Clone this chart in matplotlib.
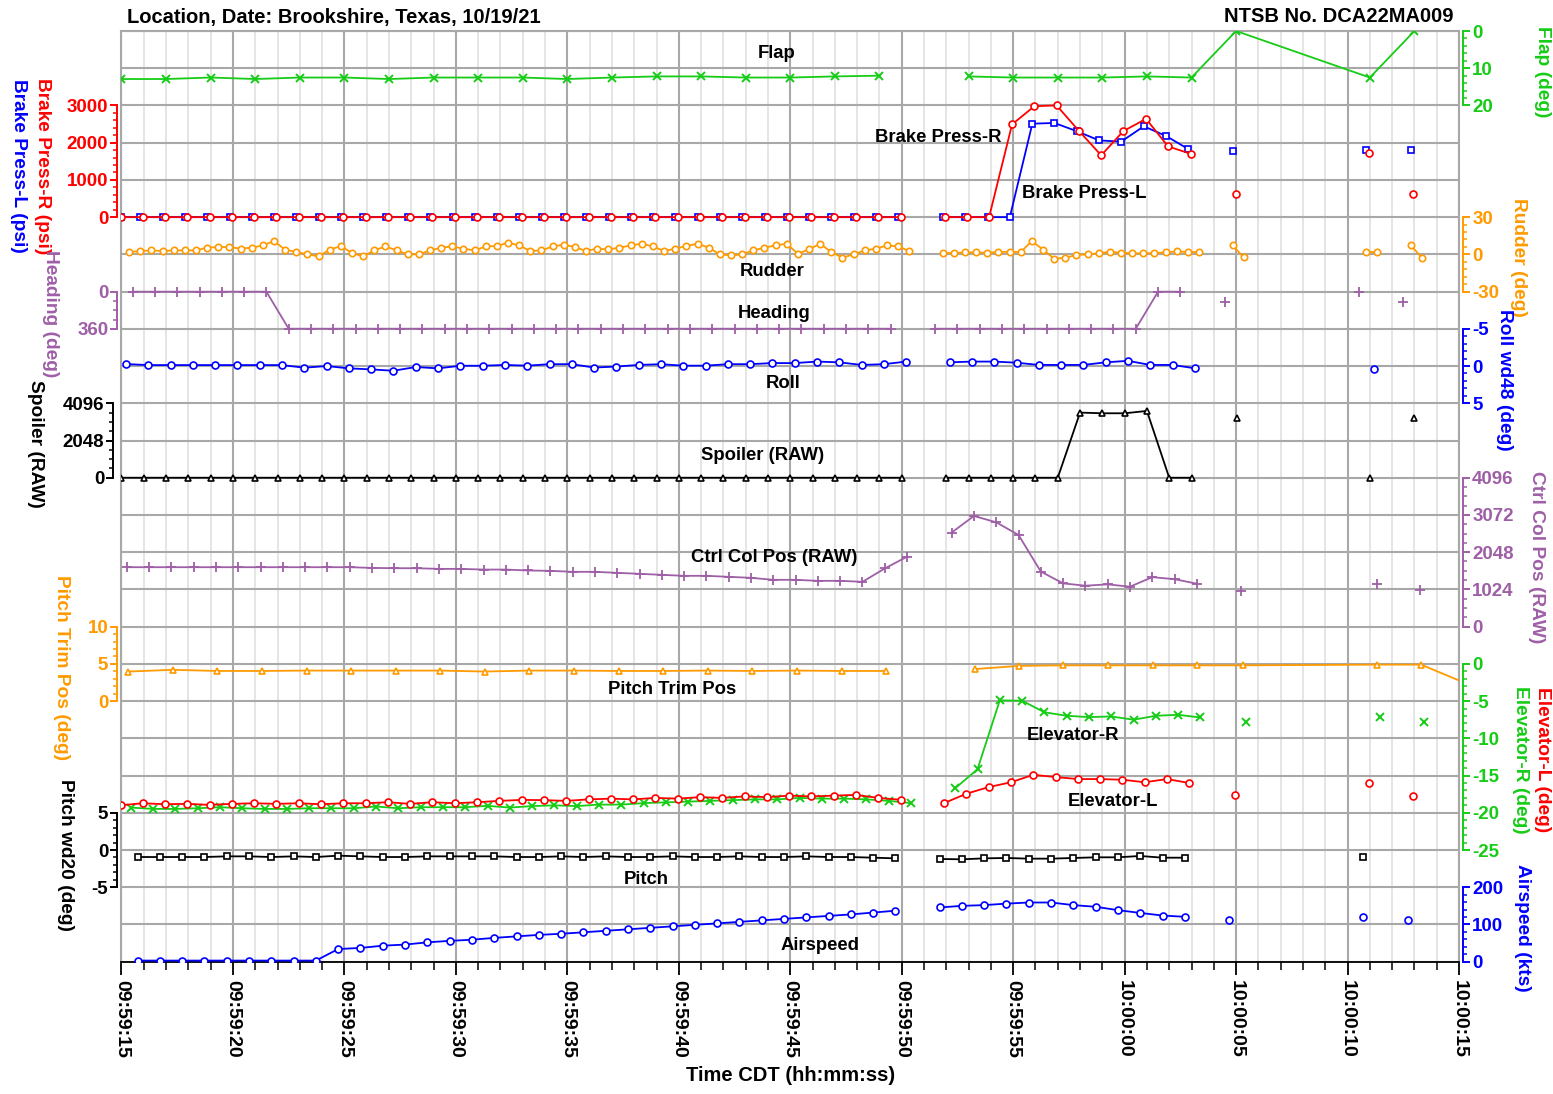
import numpy as np
import matplotlib
matplotlib.use("Agg")
import matplotlib.pyplot as plt
from matplotlib.ticker import FixedLocator

plt.rcParams['font.family'] = ['Liberation Sans', 'DejaVu Sans']

NAN = np.nan

# ---------------- time axis (seconds after 09:59:15) ----------------
time_labels = ["09:59:15", "09:59:20", "09:59:25", "09:59:30", "09:59:35", "09:59:40",
               "09:59:45", "09:59:50", "09:59:55", "10:00:00", "10:00:05", "10:00:10", "10:00:15"]

# ---------------- data ----------------
flap_t = [0, 2, 4, 6, 8, 10, 12, 14, 16, 18, 20, 22, 24, 26, 28, 30, 32, 34, NAN,
          38, 40, 42, 44, 46, 48, 50, 56, 58]
flap_v = [12.9, 12.9, 12.5, 12.9, 12.5, 12.5, 12.9, 12.5, 12.5, 12.5, 12.9, 12.5, 12.2, 12.2,
          12.5, 12.5, 12.2, 12.0, NAN, 12.2, 12.5, 12.5, 12.5, 12.2, 12.5, 0.0, 12.5, 0.0]

brake_pre = [0] * 36
brake_l_post_t = [36.85, 37.85, 38.85, 39.85, 40.86, 41.85, 42.85, 43.86, 44.85, 45.86, 46.86, 47.85]
brake_l_post = [0, 0, 0, 0, 2510, 2530, 2310, 2060, 2030, 2440, 2180, 1830]
brake_l_iso_t = [49.84, 55.82, 57.84]
brake_l_iso = [1790, 1800, 1800]
brake_r_post_t = [36.95, 37.94, 38.92, 39.95, 40.95, 41.95, 42.96, 43.95, 44.94, 45.96, 46.95, 47.97]
brake_r_post = [0, 0, 0, 2490, 2980, 3000, 2310, 1660, 2310, 2640, 1900, 1700]
brake_r_iso_t = [49.98, 55.96, 57.93]
brake_r_iso = [610, 1720, 620]

rudder_pre = [1.9, 2.7, 3.2, 2.7, 3.2, 3.2, 3.2, 5.4, 5.9, 5.9,
              4.6, 5.4, 7.2, 10.7, 3.8, 1.9, 0.0, -1.6, 3.8, 6.7,
              1.1, -1.6, 3.2, 6.4, 3.2, 0.0, 0.0, 3.2, 5.4, 6.4,
              4.6, 3.2, 6.4, 6.7, 9.4, 7.2,
              2.7, 3.2, 6.4, 7.8, 5.9, 2.7, 4.6, 4.0, 5.4, 7.2,
              8.6, 6.4, 2.7, 4.6, 6.7, 8.6, 5.4, 0.0, -0.8, 0.0,
              3.2, 5.4, 7.2, 8.6, 0.5, 4.0, 8.6, 1.9, -2.7, 0.0,
              3.2, 4.6, 7.2, 6.4, 2.7]
rudder_post = [1.1, 1.1, 1.6, 1.6, 1.3, 1.9, 2.1, 1.9, 10.7, 3.8, -3.5, -2.7,
               -0.5, 0.0, 0.8, 2.1, 1.3, 0.8, 0.8, 1.1, 1.6, 2.4, 1.9, 1.9]
rudder_pairs_t = [(49.84, 50.34), (55.84, 56.34), (57.84, 58.34)]
rudder_pairs = [(7.5, -2.5), (1.9, 1.9), (7.2, -2.7)]

heading_pre = [1] * 7 + [359] * 28
heading_post = [359] * 10 + [1, 1]
heading_iso_t = [49.5, 55.5, 57.5]
heading_iso = [100, 2, 100]

roll_pre = [-0.27, -0.13, -0.13, -0.13, -0.13, -0.13, -0.13, -0.13, 0.22, 0.0,
            0.31, 0.45, 0.63, 0.13, 0.31, -0.04, -0.04, -0.15, -0.05, -0.25,
            -0.25, 0.2, 0.07, -0.15, -0.25, -0.05, -0.05, -0.25, -0.25, -0.4,
            -0.4, -0.6, -0.5, -0.15, -0.25, -0.6]
roll_post = [-0.5, -0.6, -0.6, -0.45, -0.15, -0.15, -0.15, -0.5, -0.7, -0.15, -0.15, 0.3]
roll_iso_t = [56.18]
roll_iso = [0.35]

spoiler_pre = [0] * 36
spoiler_post = [0, 0, 0, 0, 0, 0, 3584, 3546, 3546, 3674, 0, 0]
spoiler_iso_t = [50.06, 56.0, 58.0]
spoiler_iso = [3300, 0, 3300]

ctrl_pre = [1635, 1635, 1635, 1635, 1635, 1635, 1635, 1635, 1635, 1635,
            1635, 1616, 1607, 1607, 1589, 1589, 1570, 1570, 1545, 1535,
            1508, 1508, 1480, 1453, 1425, 1398, 1398, 1370, 1343, 1288,
            1288, 1260, 1260, 1233, 1600, 1924]
ctrl_post = [2588, 3044, 2870, 2522, 1515, 1190, 1126, 1163, 1099, 1361, 1306, 1181]
ctrl_iso_t = [50.24, 56.3, 58.24]
ctrl_iso = [990, 1180, 1010]

trim_pre = [3.97, 4.2, 4.05, 4.05, 4.1, 4.1, 4.1, 4.1, 3.97, 4.1, 4.1, 4.05, 4.05, 4.1,
            4.05, 4.1, 4.05, 4.05]
trim_post_t = [38.27, 40.25, 42.25, 44.25, 46.26, 48.26, 50.29, 56.3, 58.3, 60.3]
trim_post = [4.3, 4.73, 4.8, 4.8, 4.8, 4.8, 4.8, 4.9, 4.9, 2.4]

elev_l_pre = [-18.98, -18.72, -18.85, -18.8, -18.94, -18.8, -18.72, -18.8, -18.72, -18.85,
              -18.72, -18.72, -18.58, -18.8, -18.58, -18.72, -18.58, -18.4, -18.27, -18.3,
              -18.4, -18.2, -18.1, -18.2, -18.0, -18.1, -17.9, -18.0, -17.8, -17.9,
              -17.7, -17.8, -17.7, -17.6, -18.0, -18.25]
elev_l_post = [-18.7, -17.44, -16.55, -15.9, -14.9, -15.2, -15.47, -15.47, -15.56, -15.9,
               -15.47, -16.0]
elev_l_iso_t = [49.94, 55.96, 57.93]
elev_l_iso = [-17.67, -16.0, -17.7]

elev_r_pre = [-19.3, -19.48, -19.48, -19.39, -19.25, -19.39, -19.48, -19.48, -19.39, -19.39,
              -19.39, -19.16, -19.39, -19.25, -19.25, -19.25, -19.07, -19.3, -19.1, -19.0,
              -19.1, -18.9, -18.9, -18.7, -18.6, -18.5, -18.4, -18.3, -18.2, -18.2,
              -18.0, -18.1, -18.1, -18.2, -18.4, -18.7]
elev_r_post = [-16.7, -14.15, -4.9, -4.95, -6.5, -6.97, -7.15, -7.06, -7.5, -6.97, -6.84, -7.2]
elev_r_iso_t = [50.44, 56.45, 58.43]
elev_r_iso = [-7.86, -7.1, -7.77]

pitch_pre = [-0.94, -0.94, -0.94, -0.94, -0.85, -0.85, -0.94, -0.85, -0.94, -0.76,
             -0.85, -0.94, -0.94, -0.85, -0.85, -0.85, -0.85, -0.94, -0.94, -0.85,
             -0.94, -0.85, -0.94, -0.94, -0.85, -0.94, -0.94, -0.85, -0.94, -0.94,
             -0.85, -0.94, -0.94, -1.03, -1.12]
pitch_post = [-1.2, -1.25, -1.12, -1.07, -1.16, -1.16, -1.07, -0.98, -0.98, -0.8, -1.03, -1.03]
pitch_iso_t = [55.7]
pitch_iso = [-1.0]

speed_pre = [3, 3, 3, 3, 3, 3, 3, 3, 3, 34,
             37, 43, 46, 52, 56, 59, 64, 68, 72, 75,
             79, 83, 87, 91, 95, 99, 103, 107, 111, 115,
             119, 123, 127, 132, 137]
speed_post = [145.7, 150, 152, 156, 159, 159, 152, 147.5, 138.5, 131, 124, 120.6]
speed_iso_t = [49.7, 55.7, 57.7]
speed_iso = [111.6, 121, 112]

# ---------------- colours ----------------
RED = '#FF0000'
BLUE = '#0000FF'
GREEN = '#16CC16'
ORANGE = '#FF9A00'
PURPLE = '#9E5FA6'
BLACK = '#000000'

# ---------------- figure layout ----------------
W, H = 1553, 1094
L, R, T, B = 121.5, 1459.0, 31.0, 961.7
rect = [L / W, 1 - B / H, (R - L) / W, (B - T) / H]
fig = plt.figure(figsize=(W / 100, H / 100), dpi=100)

base = fig.add_axes(rect)
base.set_xlim(0, 60)
base.set_ylim(25, 0)
for s in range(61):
    major = (s % 5 == 0)
    base.axvline(s, color='#A8A8A8' if major else '#DEDEDE', lw=1.5 if major else 1.1, zorder=0)
for k in range(26):
    base.axhline(k, color='#A8A8A8', lw=1.5, zorder=0)
for side in ('top', 'left', 'right'):
    base.spines[side].set_color('#A8A8A8')
    base.spines[side].set_linewidth(1.5)
base.spines['bottom'].set_color('black')
base.spines['bottom'].set_linewidth(1.3)
base.set_yticks([])
base.set_xticks(np.arange(0, 61, 5))
base.set_xticks(np.arange(0, 61, 1), minor=True)
base.set_xticklabels(time_labels, rotation=-90, fontsize=14, fontweight='bold',
                     ha='center', va='top')
base.tick_params(axis='x', which='major', length=9, width=1.3, pad=4, direction='out')
base.tick_params(axis='x', which='minor', length=6, width=1.1, direction='out')
base.set_xlabel("Time CDT (hh:mm:ss)", fontsize=14.5, fontweight='bold', labelpad=6)


def band_axes(side, va, ka, vb, kb, bounds, majors, minor_step, color, offset=3.0):
    ax = fig.add_axes(rect, sharex=base)
    ax.patch.set_visible(False)
    slope = (vb - va) / (kb - ka)
    def val(k):
        return va + slope * (k - ka)
    ax.set_ylim(val(25), val(0))
    for sp in ax.spines.values():
        sp.set_visible(False)
    sp = ax.spines[side]
    sp.set_visible(True)
    sp.set_bounds(*bounds)
    sp.set_color(color)
    sp.set_linewidth(1.4)
    sp.set_position(('outward', offset))
    ax.yaxis.set_ticks_position(side)
    ax.yaxis.set_major_locator(FixedLocator(majors))
    lo, hi = min(bounds), max(bounds)
    mins = [m for m in np.arange(lo, hi + 1e-9, minor_step) if m not in majors]
    ax.yaxis.set_minor_locator(FixedLocator(mins))
    ax.set_yticklabels([str(m) for m in majors])
    ax.tick_params(axis='y', which='major', length=5, width=1.4, colors=color, pad=1.5,
                   labelsize=13.5)
    ax.tick_params(axis='y', which='minor', length=3, width=1.1, colors=color)
    for lab in ax.get_yticklabels():
        lab.set_fontweight('bold')
    ax.tick_params(axis='x', which='both', bottom=False, labelbottom=False)
    return ax


def seg(t0, n, step=1.0):
    return list(t0 + step * np.arange(n))


def draw(ax, t, v, color, marker, ms=5.0, lw=1.3, mew=1.2, mfc='white'):
    ax.plot(t, v, color=color, lw=lw, marker=marker, ms=ms, mfc=mfc, mec=color, mew=mew,
            clip_on=True)


def join(*parts):
    out = []
    for i, p in enumerate(parts):
        if i:
            out.append(NAN)
        out.extend(p)
    return out


# Flap
ax = band_axes('right', 0, 0, 20, 2, (0, 20), [0, 10, 20], 2, GREEN)
draw(ax, flap_t, flap_v, GREEN, 'x', ms=6, mew=1.4, mfc=GREEN)

# Brake pressures
ax = band_axes('left', 0, 5, 3000, 2, (0, 3000), [0, 1000, 2000, 3000], 200, RED)
bl_t = join([0] + seg(0.85, 35), brake_l_post_t, [brake_l_iso_t[0]], [brake_l_iso_t[1]], [brake_l_iso_t[2]])
bl_v = join(brake_pre, brake_l_post, [brake_l_iso[0]], [brake_l_iso[1]], [brake_l_iso[2]])
br_t = join([0] + seg(0.95, 35), brake_r_post_t, [brake_r_iso_t[0]], [brake_r_iso_t[1]], [brake_r_iso_t[2]])
br_v = join(brake_pre, brake_r_post, [brake_r_iso[0]], [brake_r_iso[1]], [brake_r_iso[2]])
draw(ax, bl_t, bl_v, BLUE, 's', ms=5)
draw(ax, br_t, br_v, RED, 'o', ms=5)

# Rudder
ax = band_axes('right', 0, 6, 30, 5, (-30, 30), [-30, 0, 30], 6, ORANGE)
ru_t = join(seg(0.34, 71, 0.5), seg(36.84, 24, 0.5), list(rudder_pairs_t[0]),
            list(rudder_pairs_t[1]), list(rudder_pairs_t[2]))
ru_v = join(rudder_pre, rudder_post, list(rudder_pairs[0]), list(rudder_pairs[1]),
            list(rudder_pairs[2]))
draw(ax, ru_t, ru_v, ORANGE, 'o', ms=4.6)

# Heading
ax = band_axes('left', 0, 7, 360, 8, (0, 360), [0, 360], 90, PURPLE)
hd_t = join(seg(0.5, 35), seg(36.5, 12), [heading_iso_t[0]], [heading_iso_t[1]], [heading_iso_t[2]])
hd_v = join(heading_pre, heading_post, [heading_iso[0]], [heading_iso[1]], [heading_iso[2]])
draw(ax, hd_t, hd_v, PURPLE, '+', ms=7, mew=1.3)

# Roll
ax = band_axes('right', 0, 9, 5, 10, (-5, 5), [-5, 0, 5], 1, BLUE)
rl_t = join(seg(0.2, 36), seg(37.15, 12), roll_iso_t)
rl_v = join(roll_pre, roll_post, roll_iso)
draw(ax, rl_t, rl_v, BLUE, 'o', ms=5)

# Spoiler
ax = band_axes('left', 0, 12, 4096, 10, (0, 4096), [0, 2048, 4096], 512, BLACK, offset=6)
sp_t = join(seg(0.0, 36), seg(37.0, 12), [spoiler_iso_t[0]], [spoiler_iso_t[1]], [spoiler_iso_t[2]])
sp_v = join(spoiler_pre, spoiler_post, [spoiler_iso[0]], [spoiler_iso[1]], [spoiler_iso[2]])
draw(ax, sp_t, sp_v, BLACK, '^', ms=5)

# Ctrl column
ax = band_axes('right', 0, 16, 4096, 12, (0, 4096), [0, 1024, 2048, 3072, 4096], 256, PURPLE)
cc_t = join(seg(0.24, 36), seg(37.24, 12), [ctrl_iso_t[0]], [ctrl_iso_t[1]], [ctrl_iso_t[2]])
cc_v = join(ctrl_pre, ctrl_post, [ctrl_iso[0]], [ctrl_iso[1]], [ctrl_iso[2]])
draw(ax, cc_t, cc_v, PURPLE, '+', ms=7, mew=1.3)

# Pitch trim
ax = band_axes('left', 0, 18, 10, 16, (0, 10), [0, 5, 10], 1, ORANGE)
pt_t = join(seg(0.3, 18, 2.0), trim_post_t)
pt_v = join(trim_pre, trim_post)
draw(ax, pt_t, pt_v, ORANGE, '^', ms=5)

# Elevators
ax = band_axes('right', 0, 17, -25, 22, (-25, 0), [0, -5, -10, -15, -20, -25], 1, GREEN)
er_t = join(seg(0.42, 36), seg(37.4, 12), [elev_r_iso_t[0]], [elev_r_iso_t[1]], [elev_r_iso_t[2]])
er_v = join(elev_r_pre, elev_r_post, [elev_r_iso[0]], [elev_r_iso[1]], [elev_r_iso[2]])
el_t = join([0] + seg(0.95, 35), seg(36.9, 12), [elev_l_iso_t[0]], [elev_l_iso_t[1]], [elev_l_iso_t[2]])
el_v = join(elev_l_pre, elev_l_post, [elev_l_iso[0]], [elev_l_iso[1]], [elev_l_iso[2]])
draw(ax, er_t, er_v, GREEN, 'x', ms=6, mew=1.4, mfc=GREEN)
draw(ax, el_t, el_v, RED, 'o', ms=5)

# Pitch
ax = band_axes('left', 0, 22, 5, 21, (-5, 5), [-5, 0, 5], 1, BLACK)
pi_t = join(seg(0.72, 35), seg(36.7, 12), pitch_iso_t)
pi_v = join(pitch_pre, pitch_post, pitch_iso)
draw(ax, pi_t, pi_v, BLACK, 's', ms=5)

# Airspeed
ax = band_axes('right', 0, 25, 200, 23, (0, 200), [0, 100, 200], 20, BLUE)
as_t = join(seg(0.72, 35), seg(36.7, 12), [speed_iso_t[0]], [speed_iso_t[1]], [speed_iso_t[2]])
as_v = join(speed_pre, speed_post, [speed_iso[0]], [speed_iso[1]], [speed_iso[2]])
draw(ax, as_t, as_v, BLUE, 'o', ms=5)

# ---------------- in-plot labels ----------------
def px2data(px, py):
    return (px - L) / (R - L) * 60, (py - T) / (B - T) * 25

for txt, px, py in [("Flap", 777, 53), ("Brake Press-R", 938, 138), ("Brake Press-L", 1084, 194),
                    ("Rudder", 772, 272), ("Heading", 774, 313), ("Roll", 783, 383),
                    ("Spoiler (RAW)", 763, 455), ("Ctrl Col Pos (RAW)", 774, 557),
                    ("Pitch Trim Pos", 672, 690), ("Elevator-R", 1073, 736),
                    ("Elevator-L", 1113, 801), ("Pitch", 646, 879), ("Airspeed", 820, 945)]:
    x, y = px2data(px, py)
    base.text(x, y, txt, ha='center', va='center', fontsize=13.3, fontweight='bold',
              color='black', zorder=20)

# ---------------- titles and axis names ----------------
fig.text(127 / W, 1 - 17 / H, "Location, Date: Brookshire, Texas, 10/19/21", ha='left',
         va='center', fontsize=14.5, fontweight='bold')
fig.text(1453 / W, 1 - 17 / H, "NTSB No. DCA22MA009", ha='right', va='center',
         fontsize=14.5, fontweight='bold')

for txt, px, py, col in [("Brake Press-R (psi)", 42, 166, RED), ("Brake Press-L (psi)", 18, 166, BLUE),
                         ("Heading (deg)", 50, 314, PURPLE), ("Spoiler (RAW)", 35, 444, BLACK),
                         ("Pitch Trim Pos (deg)", 61, 668, ORANGE), ("Pitch wd20 (deg)", 65, 855, BLACK),
                         ("Flap (deg)", 1542, 72, GREEN), ("Rudder (deg)", 1518, 257, ORANGE),
                         ("Roll wd48 (deg)", 1505, 380, BLUE), ("Ctrl Col Pos (RAW)", 1536, 557, PURPLE),
                         ("Elevator-L (deg)", 1543, 760, RED), ("Elevator-R (deg)", 1520, 760, GREEN),
                         ("Airspeed (kts)", 1522, 928, BLUE)]:
    fig.text(px / W, 1 - py / H, txt, rotation=-90, ha='center', va='center', fontsize=13.8,
             fontweight='bold', color=col)

fig.savefig("out.png", dpi=100)
